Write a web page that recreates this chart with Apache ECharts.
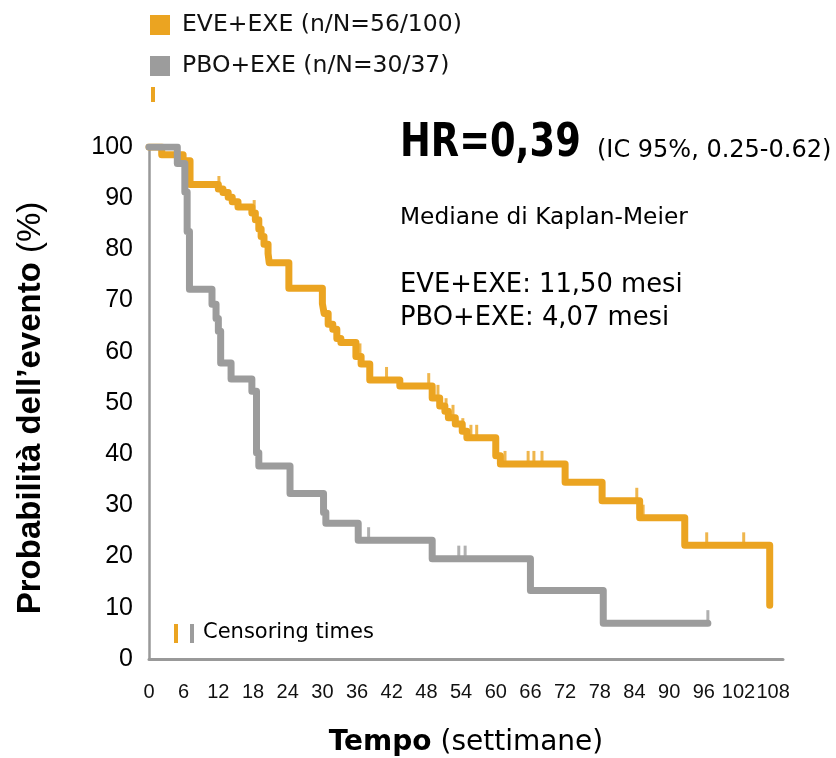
<!DOCTYPE html>
<html>
<head>
<meta charset="utf-8">
<title>Kaplan-Meier</title>
<script src="https://cdn.jsdelivr.net/npm/echarts@6/dist/echarts.min.js"></script>
<style>
  html, body { margin: 0; padding: 0; background: #fff; }
  #chart { width: 836px; height: 758px; }
</style>
</head>
<body>
<div id="chart"></div>
<script>
// Kaplan-Meier step curves: [week, probability %] at each event time
const evePoints = [
  [0, 100], [2.2, 98.5], [5.9, 97.3], [7.1, 92.7], [12.0, 91.8], [12.8, 91.1],
  [13.7, 90.2], [14.4, 89.3], [15.4, 88.3], [17.8, 87.1], [18.4, 85.8],
  [19.0, 84.0], [19.4, 82.5], [19.9, 81.0], [20.6, 79.2], [20.8, 77.4],
  [24.2, 72.4], [30.0, 69.4], [30.3, 67.5], [31.0, 65.4], [31.8, 64.4],
  [32.5, 62.6], [33.2, 61.8], [35.8, 59.1], [36.7, 57.6], [38.2, 54.5],
  [43.4, 53.3], [49.0, 51.0], [50.3, 49.4], [51.2, 48.4], [51.8, 47.1],
  [53.0, 45.9], [54.2, 44.5], [55.0, 43.2], [60.0, 39.7], [60.8, 38.1],
  [72.0, 34.5], [78.4, 30.9], [84.9, 27.6], [92.7, 22.2], [107.4, 10.5]
];
const pboPoints = [
  [0, 100], [4.9, 96.8], [6.2, 91.2], [6.6, 83.5], [7.0, 72.2], [10.9, 69.3],
  [11.6, 66.5], [12.0, 64.0], [12.4, 57.8], [14.2, 54.7], [17.8, 52.3],
  [18.6, 40.3], [19.0, 37.7], [24.4, 32.3], [30.2, 28.6], [30.6, 26.5],
  [36.2, 23.2], [49.0, 19.6], [66.0, 13.4], [78.6, 7.0], [96.7, 7.0]
];
// Censoring times (weeks)
const eveCensored = [12.1, 18.2, 36.5, 41.1, 48.4, 50.0, 51.4, 52.6, 54.3, 55.7,
  56.7, 61.6, 65.6, 66.6, 68.0, 84.4, 85.5, 96.5, 102.9];
const pboCensored = [38.0, 53.6, 54.7, 96.7];

const seriesNames = ['EVE+EXE (n/N=56/100)', 'PBO+EXE (n/N=30/37)'];
const xTickStep = 6;
const xTickLast = 108;
const yTickStep = 10;

const ORANGE = '#EBA421';
const GRAY = '#9C9C9C';
const TAHOMA_LIKE = '"DejaVu Sans", Verdana, sans-serif';
const ARIAL_LIKE = '"Liberation Sans", Arial, sans-serif';

// value of a step curve at time t
function survivalAt(points, t) {
  let s = points[0][1];
  for (const p of points) { if (p[0] <= t) s = p[1]; else break; }
  return s;
}

const chart = echarts.init(document.getElementById('chart'), null, { renderer: 'canvas' });

const lineStyleFor = c => ({ color: c, width: 7, cap: 'round', join: 'round' });
const tickMarks = (name, pts, times, c) => ({
  name: name, type: 'scatter', z: 4,
  symbol: 'rect', symbolSize: [3, 14], symbolOffset: [0, -6],
  itemStyle: { color: c },
  data: times.map(t => [t, survivalAt(pts, t)]),
  silent: true
});

chart.setOption({
  animation: false,
  backgroundColor: '#fff',
  grid: { left: 149, right: 53, top: 147, bottom: 99, containLabel: false, outerBoundsMode: 'none' },
  legend: {
    data: seriesNames,
    orient: 'vertical', left: 150, top: 13, padding: 0,
    icon: 'rect', itemWidth: 20, itemHeight: 20, itemGap: 17,
    selectedMode: false,
    textStyle: { fontFamily: TAHOMA_LIKE, fontSize: 23.5, color: '#111', padding: [2, 0, 0, 7] }
  },
  xAxis: {
    type: 'value', min: 0, max: 109.7, interval: xTickStep,
    axisLine: { show: true, lineStyle: { color: '#999', width: 3 } },
    axisTick: { show: false }, splitLine: { show: false },
    axisLabel: {
      margin: 23, fontFamily: ARIAL_LIKE, fontSize: 20, color: '#111',
      formatter: v => (v % xTickStep === 0 && v <= xTickLast) ? String(v) : ''
    },
    name: '{b|Tempo}{n| (settimane)}', nameLocation: 'middle', nameGap: 70,
    nameTextStyle: {
      rich: {
        b: { fontFamily: TAHOMA_LIKE, fontWeight: 'bold', fontSize: 28, color: '#000' },
        n: { fontFamily: TAHOMA_LIKE, fontSize: 28, color: '#000' }
      }
    }
  },
  yAxis: {
    type: 'value', min: 0, max: 100, interval: yTickStep,
    axisLine: { show: true, lineStyle: { color: '#999', width: 2.5 } },
    axisTick: { show: false }, splitLine: { show: false },
    axisLabel: { margin: 16, fontFamily: ARIAL_LIKE, fontSize: 25, color: '#000' },
    name: '{b|Probabilità dell’evento}{n| (%)}', nameLocation: 'middle', nameGap: 102,
    nameRotate: 90,
    nameTextStyle: {
      padding: [0, 10, 0, 0],
      rich: {
        b: { fontFamily: ARIAL_LIKE, fontWeight: 'bold', fontSize: 33, color: '#000' },
        n: { fontFamily: ARIAL_LIKE, fontSize: 33, color: '#000' }
      }
    }
  },
  series: [
    { name: seriesNames[0], type: 'line', step: 'end', showSymbol: false, z: 2,
      color: ORANGE, lineStyle: lineStyleFor(ORANGE), data: evePoints },
    { name: seriesNames[1], type: 'line', step: 'end', showSymbol: false, z: 3,
      color: GRAY, lineStyle: lineStyleFor(GRAY), data: pboPoints },
    tickMarks('eve-censor', evePoints, eveCensored, ORANGE),
    tickMarks('pbo-censor', pboPoints, pboCensored, GRAY)
  ],
  graphic: [
    { type: 'rect', x: 151, y: 87, shape: { width: 4, height: 15 }, style: { fill: ORANGE } },
    { type: 'text', x: 400, y: 144, scaleX: 0.8,
      style: { text: 'HR=0,39', fontFamily: TAHOMA_LIKE, fontWeight: 'bold', fontSize: 46,
               fill: '#000', verticalAlign: 'middle' } },
    { type: 'text', x: 597, y: 151,
      style: { text: '(IC 95%, 0.25-0.62)', fontFamily: TAHOMA_LIKE, fontSize: 24,
               fill: '#000', verticalAlign: 'middle' } },
    { type: 'text', x: 400, y: 218,
      style: { text: 'Mediane di Kaplan-Meier', fontFamily: TAHOMA_LIKE, fontSize: 23.3,
               fill: '#000', verticalAlign: 'middle' } },
    { type: 'text', x: 400, y: 285,
      style: { text: 'EVE+EXE: 11,50 mesi', fontFamily: TAHOMA_LIKE, fontSize: 25.8,
               fill: '#000', verticalAlign: 'middle' } },
    { type: 'text', x: 400, y: 318,
      style: { text: 'PBO+EXE: 4,07 mesi', fontFamily: TAHOMA_LIKE, fontSize: 25.8,
               fill: '#000', verticalAlign: 'middle' } },
    { type: 'rect', x: 174, y: 624, shape: { width: 4, height: 19 }, style: { fill: ORANGE } },
    { type: 'rect', x: 190, y: 624, shape: { width: 4, height: 19 }, style: { fill: GRAY } },
    { type: 'text', x: 203, y: 633,
      style: { text: 'Censoring times', fontFamily: TAHOMA_LIKE, fontSize: 21,
               fill: '#000', verticalAlign: 'middle' } }
  ]
});
</script>
</body>
</html>
